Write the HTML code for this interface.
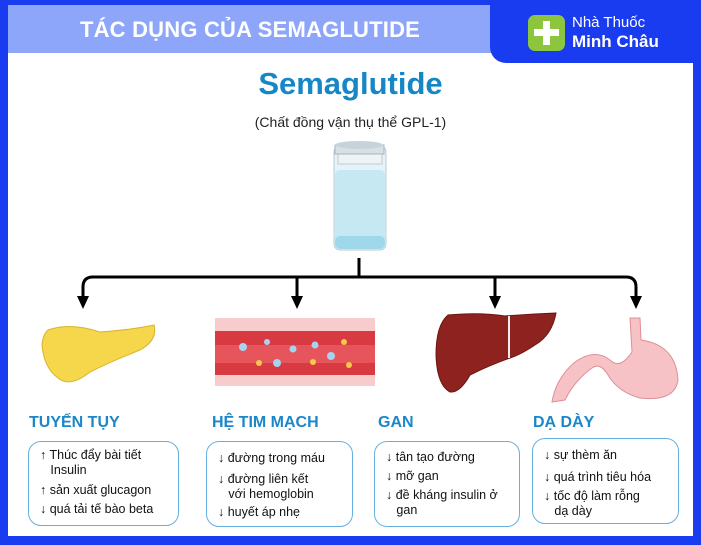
<!DOCTYPE html>
<html><head><meta charset="utf-8"><style>
*{margin:0;padding:0;box-sizing:border-box}
body{width:701px;height:545px;overflow:hidden;background:#1a3cf0;font-family:"Liberation Sans",sans-serif;position:relative}
.abs{position:absolute}
.main{left:8px;top:5px;width:685px;height:531px;background:#fff}
.hdr{left:8px;top:5px;width:484px;height:48px;background:#8ea6fa;color:#fff;font-weight:bold;font-size:22px;line-height:50px;text-align:center;letter-spacing:0.2px}
.logo{left:490px;top:0;width:203px;height:63px;background:#1a3cf0;border-bottom-left-radius:16px}
.h{font-weight:bold;color:#1b87c9;font-size:16px}
.box{border:1.5px solid #64b0e0;border-radius:13px;font-size:12.5px;color:#111;line-height:15px;padding:0 6px}
.box p{position:absolute;left:11px;white-space:nowrap}
</style></head><body>
<div class="abs main"></div>
<div class="abs hdr">TÁC DỤNG CỦA SEMAGLUTIDE</div>
<div class="abs logo">
 <div class="abs" style="left:38px;top:15px;width:37px;height:36px;background:#8cc63e;border-radius:7px"></div>
 <div class="abs" style="left:53px;top:21px;width:7px;height:24px;background:#fff"></div>
 <div class="abs" style="left:44px;top:29px;width:25px;height:7px;background:#fff"></div>
 <div class="abs" style="left:82px;top:14px;color:#fff;font-size:15px">Nhà Thuốc</div>
 <div class="abs" style="left:82px;top:32px;color:#fff;font-size:17px;font-weight:bold">Minh Châu</div>
</div>
<div class="abs" style="left:0;width:701px;top:66px;text-align:center;font-size:31px;font-weight:bold;color:#1686c6">Semaglutide</div>
<div class="abs" style="left:0;width:701px;top:114px;text-align:center;font-size:14px;color:#222">(Chất đồng vận thụ thể GPL-1)</div>

<svg class="abs" style="left:0;top:0" width="701" height="545">
 <rect x="334" y="146" width="52" height="104" rx="6" fill="#e4f3f8" stroke="#b8ccd6"/>
 <rect x="335" y="170" width="50" height="78" rx="5" fill="#c5e8f2"/>
 <rect x="335" y="236" width="50" height="13" rx="5" fill="#9fd8ea"/>
 <rect x="338" y="154" width="44" height="10" fill="#eef4f6" stroke="#bfcbd2"/>
 <rect x="335" y="145" width="49" height="9" fill="#d8e0e5" stroke="#a8b4bc"/>
 <ellipse cx="359" cy="145" rx="24" ry="4" fill="#c7d3da"/>
 <g stroke="#000" stroke-width="3" fill="none">
  <line x1="359" y1="258" x2="359" y2="277"/>
  <path d="M83 298 V287 Q83 277 93 277 H626 Q636 277 636 287 V298"/>
  <line x1="297" y1="277" x2="297" y2="298"/>
  <line x1="495" y1="277" x2="495" y2="298"/>
 </g>
 <g fill="#000">
  <polygon points="77,296 89,296 83,309"/>
  <polygon points="291,296 303,296 297,309"/>
  <polygon points="489,296 501,296 495,309"/>
  <polygon points="630,296 642,296 636,309"/>
 </g>
 <path d="M48 330 Q70 322 100 332 Q130 330 154 325 Q158 340 140 350 Q110 362 90 372 Q70 388 58 378 Q44 368 42 345 Q43 334 48 330Z" fill="#f6d64a" stroke="#d8b428"/>
 <rect x="215" y="318" width="160" height="68" fill="#f8cccc"/>
 <rect x="215" y="331" width="160" height="44" fill="#d83a42"/>
 <rect x="215" y="345" width="160" height="18" fill="#ec6168" opacity="0.7"/>
 <g fill="#a6d4f0"><circle cx="243" cy="347" r="4"/><circle cx="267" cy="342" r="3"/><circle cx="293" cy="349" r="3.5"/><circle cx="315" cy="345" r="3.5"/><circle cx="331" cy="356" r="4"/><circle cx="277" cy="363" r="4"/></g>
 <g fill="#f4c84a"><circle cx="344" cy="342" r="3"/><circle cx="259" cy="363" r="3"/><circle cx="313" cy="362" r="3"/><circle cx="349" cy="365" r="3"/></g>
 <path d="M448 315 Q480 312 505 316 Q530 314 556 313 Q552 335 535 345 Q520 355 510 358 Q490 365 470 375 Q460 393 450 392 Q437 385 436 355 Q436 325 448 315Z" fill="#8e221e" stroke="#6a1612"/>
 <line x1="509" y1="316" x2="509" y2="358" stroke="#eee" stroke-width="2"/>
 <path d="M630 318 L640 318 L641 340 Q676 345 678 380 Q675 402 640 398 Q618 392 608 375 Q600 362 592 368 Q575 380 565 400 L552 402 Q556 378 575 362 Q595 348 610 360 Q620 370 632 352 Z" fill="#f7c2c6" stroke="#dd9096"/>
</svg>

<div class="abs h" style="left:29px;top:414px">TUYẾN TỤY</div>
<div class="abs h" style="left:212px;top:414px">HỆ TIM MẠCH</div>
<div class="abs h" style="left:378px;top:414px">GAN</div>
<div class="abs h" style="left:533px;top:414px">DẠ DÀY</div>

<div class="abs box" style="left:28px;top:441px;width:151px;height:85px">
 <p style="top:6px">↑ Thúc đẩy bài tiết<br>&nbsp;&nbsp;&nbsp;Insulin</p>
 <p style="top:41px">↑ sản xuất glucagon</p>
 <p style="top:60px">↓ quá tải tế bào beta</p>
</div>
<div class="abs box" style="left:206px;top:441px;width:147px;height:86px">
 <p style="top:9px">↓ đường trong máu</p>
 <p style="top:30px">↓ đường liên kết<br>&nbsp;&nbsp;&nbsp;với hemoglobin</p>
 <p style="top:63px">↓ huyết áp nhẹ</p>
</div>
<div class="abs box" style="left:374px;top:441px;width:146px;height:86px">
 <p style="top:8px">↓ tân tạo đường</p>
 <p style="top:27px">↓ mỡ gan</p>
 <p style="top:46px">↓ đề kháng insulin ở<br>&nbsp;&nbsp;&nbsp;gan</p>
</div>
<div class="abs box" style="left:532px;top:438px;width:147px;height:86px">
 <p style="top:9px">↓ sự thèm ăn</p>
 <p style="top:31px">↓ quá trình tiêu hóa</p>
 <p style="top:50px">↓ tốc độ làm rỗng<br>&nbsp;&nbsp;&nbsp;dạ dày</p>
</div>
</body></html>
